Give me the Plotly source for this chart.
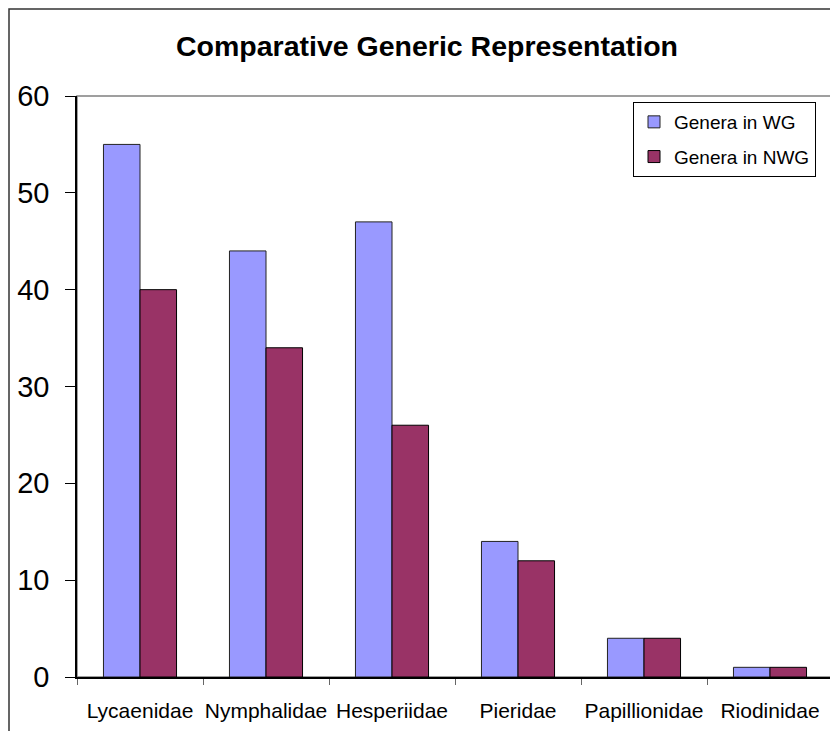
import plotly.graph_objects as go

categories = ["Lycaenidae", "Nymphalidae", "Hesperiidae", "Pieridae", "Papillionidae", "Riodinidae"]
genera_wg = [55, 44, 47, 14, 4, 1]
genera_nwg = [40, 34, 26, 12, 4, 1]
y_ticks = [0, 10, 20, 30, 40, 50, 60]

FONT = "Liberation Sans, Arial, sans-serif"
W, H = 838, 731
L, R, T, B = 69, 13, 88, 62
pw, ph = W - L - R, H - T - B

def px(x):
    return (x - L) / pw

def py(y):
    return (H - B - y) / ph

fig = go.Figure()
fig.add_trace(go.Bar(x=categories, y=genera_wg, name="Genera in WG", legendgroup="wg",
                     marker=dict(color="#9999FF", line=dict(color="#222222", width=1))))
fig.add_trace(go.Bar(x=categories, y=genera_nwg, name="Genera in NWG", legendgroup="nwg",
                     marker=dict(color="#993366", line=dict(color="#000000", width=1))))

fig.update_layout(
    width=W, height=H,
    margin=dict(l=L, r=R, t=T, b=B, autoexpand=False),
    paper_bgcolor="white", plot_bgcolor="white",
    barmode="group", bargap=0.42, bargroupgap=0,
    font=dict(family=FONT, color="black"),
    title=dict(text="<b>Comparative Generic Representation</b>", x=419 / W, xref="container",
               y=1 - 38 / H, yref="container", xanchor="center", yanchor="middle",
               font=dict(size=28.5, family=FONT, color="black")),
    showlegend=True,
    legend=dict(x=px(625), y=py(94), xanchor="left", yanchor="top",
                bordercolor="black", borderwidth=1, bgcolor="white",
                font=dict(size=19, family=FONT), traceorder="grouped",
                itemwidth=30, tracegroupgap=7),
    xaxis=dict(type="category", showline=True, linecolor="black", linewidth=1.5,
               ticks="outside", tickson="boundaries", ticklen=6, tickcolor="#666666",
               tickangle=0, automargin=False,
               tickfont=dict(size=21, family=FONT), showgrid=False, ticklabelstandoff=14),
    yaxis=dict(range=[0, 60], tickvals=y_ticks, showline=True, linecolor="black", linewidth=1.5,
               ticks="outside", ticklen=10, tickcolor="black", automargin=False,
               tickfont=dict(size=29, family=FONT), showgrid=False, zeroline=False,
               ticklabelstandoff=10),
    shapes=[
        dict(type="rect", xref="paper", yref="paper", x0=0, x1=1, y0=0, y1=1,
             line=dict(color="#808080", width=1.5), layer="below"),
        dict(type="rect", xref="paper", yref="paper", x0=px(1), x1=px(860), y0=py(760), y1=py(1),
             line=dict(color="#333333", width=1.5), layer="below"),
    ],
)

fig.write_html("out.html")
